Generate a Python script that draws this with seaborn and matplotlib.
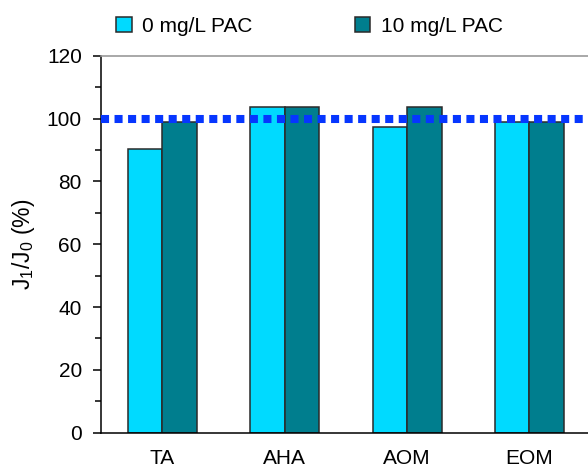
import matplotlib
matplotlib.use("Agg")
import matplotlib.pyplot as plt
import pandas as pd
import seaborn as sns
from matplotlib.ticker import MultipleLocator, FixedLocator

categories = ["TA", "AHA", "AOM", "EOM"]
doses = ["0 mg/L PAC", "10 mg/L PAC"]
pac_0 = [90.2, 103.8, 97.3, 99.0]
pac_10 = [99.0, 103.8, 103.8, 99.0]
reference_level = 100

df = pd.DataFrame({
    "sample": categories * 2,
    "dose": [doses[0]] * len(categories) + [doses[1]] * len(categories),
    "ratio": pac_0 + pac_10,
})

sns.set_style("white")
plt.rcParams["font.family"] = ["Liberation Sans", "DejaVu Sans"]
plt.rcParams["font.size"] = 15
plt.rcParams["text.color"] = "black"
plt.rcParams["axes.labelcolor"] = "black"
plt.rcParams["xtick.color"] = "black"
plt.rcParams["ytick.color"] = "black"
plt.rcParams["mathtext.fontset"] = "custom"
plt.rcParams["mathtext.rm"] = "Liberation Sans"
plt.rcParams["mathtext.it"] = "Liberation Sans"

fig = plt.figure(figsize=(5.88, 4.69), dpi=100)
ax = fig.add_axes([101.3 / 588, 36.3 / 469, 489.2 / 588, 377 / 469])

sns.barplot(data=df, x="sample", y="ratio", hue="dose", order=categories,
            hue_order=doses, palette=["#00DAFF", "#007E8E"], width=0.565,
            errorbar=None, edgecolor="#2a2a2a", linewidth=1.1, saturation=1,
            ax=ax)

ax.axhline(reference_level, color="#0636FF", linewidth=5.8,
           linestyle=(0, (1, 0.68)), dash_capstyle="butt", zorder=5)

ax.set_xlim(-0.5, len(categories) - 0.5)
ax.set_ylim(0, 120)
ax.yaxis.set_major_locator(MultipleLocator(20))
ax.yaxis.set_minor_locator(MultipleLocator(10))
ax.xaxis.set_minor_locator(FixedLocator([i - 0.5 for i in range(len(categories) + 1)]))
ax.tick_params(axis="x", which="major", length=0, pad=12, labelsize=15)
ax.tick_params(axis="x", which="minor", length=6, width=1.1, color="black", direction="out")
ax.tick_params(axis="y", which="major", length=6, width=1.1, color="black", direction="out", pad=8, labelsize=15)
ax.tick_params(axis="y", which="minor", length=4, width=1.1, color="black", direction="out", left=True)
ax.tick_params(bottom=True, left=True)

ax.set_xlabel("")
ax.set_ylabel("J$_{1}$/J$_{0}$ (%)", fontsize=16.5, labelpad=7)

for side in ["left", "bottom"]:
    ax.spines[side].set_color("black")
    ax.spines[side].set_linewidth(1.1)
ax.spines["top"].set_color("#999999")
ax.spines["top"].set_linewidth(1.2)
ax.spines["right"].set_visible(False)

handles, labels = ax.get_legend_handles_labels()
ax.get_legend().remove()
fig.legend(handles, labels, loc="center left", bbox_to_anchor=(116 / 588, 1 - 26 / 469),
           ncol=2, frameon=False, borderpad=0, borderaxespad=0, handlelength=0.75,
           handleheight=0.75, handletextpad=0.5, columnspacing=4.9, fontsize=15)

fig.savefig("out.png", dpi=100)
